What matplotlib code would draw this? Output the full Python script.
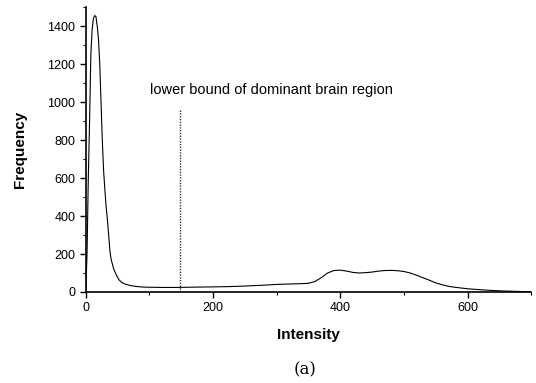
import matplotlib
matplotlib.use('Agg')
import matplotlib.pyplot as plt
from matplotlib.ticker import MultipleLocator

# histogram
intensity = [0, 2, 4, 6, 8, 10, 12, 14, 16, 18, 20, 22, 24, 26, 28, 30, 32, 34, 36, 38,
             40, 44, 48, 52, 56, 60, 70, 80, 90, 100, 120, 140, 160, 180, 200, 220, 240,
             260, 280, 300, 320, 340, 350, 360, 370, 380, 390, 400, 410, 420, 430, 440,
             450, 460, 470, 480, 490, 500, 510, 520, 530, 540, 550, 560, 570, 580, 590,
             600, 620, 640, 660, 680, 700]
frequency = [0, 200, 600, 900, 1250, 1380, 1440, 1455, 1450, 1400, 1330, 1200, 1000, 800,
             640, 540, 450, 380, 300, 215, 170, 120, 90, 65, 52, 44, 34, 29, 26, 25, 24, 24,
             25, 26, 27, 28, 30, 33, 36, 40, 42, 44, 46, 55, 75, 100, 113, 115, 110, 103,
             100, 102, 105, 110, 113, 114, 112, 108, 100, 88, 75, 62, 48, 38, 30, 25, 21,
             17, 12, 8, 5, 3, 1]

bound_x = 148
bound_top = 965
bound_text = 'lower bound of dominant brain region'

plt.rcParams['font.family'] = ['Liberation Sans', 'DejaVu Sans']

fig = plt.figure(figsize=(5.36, 3.83), dpi=100)
ax = fig.add_axes([0.160, 0.2376, 0.831, 0.744])

ax.plot(intensity, frequency, color='black', lw=0.8)
ax.plot([bound_x, bound_x], [0, bound_top], color='#333333', lw=1.0, linestyle=(0, (1, 1)))
ax.text(101, 1065, bound_text, fontsize=10.5, ha='left', va='center')

ax.set_xlim(0, 700)
ax.set_ylim(0, 1500)
ax.xaxis.set_major_locator(MultipleLocator(200))
ax.xaxis.set_minor_locator(MultipleLocator(100))
ax.yaxis.set_major_locator(MultipleLocator(200))
ax.yaxis.set_minor_locator(MultipleLocator(100))
ax.set_yticks([0, 200, 400, 600, 800, 1000, 1200, 1400])

for s in ['top', 'right']:
    ax.spines[s].set_visible(False)
for s in ['left', 'bottom']:
    ax.spines[s].set_linewidth(1.2)

ax.tick_params(which='major', direction='out', length=4, width=1, labelsize=9)
ax.tick_params(which='minor', direction='out', length=2.5, width=0.8)

ax.set_xlabel('Intensity', fontsize=11, fontweight='bold', labelpad=10)
ax.set_ylabel('Frequency', fontsize=11, fontweight='bold', labelpad=15)

fig.text(0.569, 0.035, '(a)', fontsize=12, family='DejaVu Serif', ha='center', va='center')

fig.savefig('out.png', dpi=100)
